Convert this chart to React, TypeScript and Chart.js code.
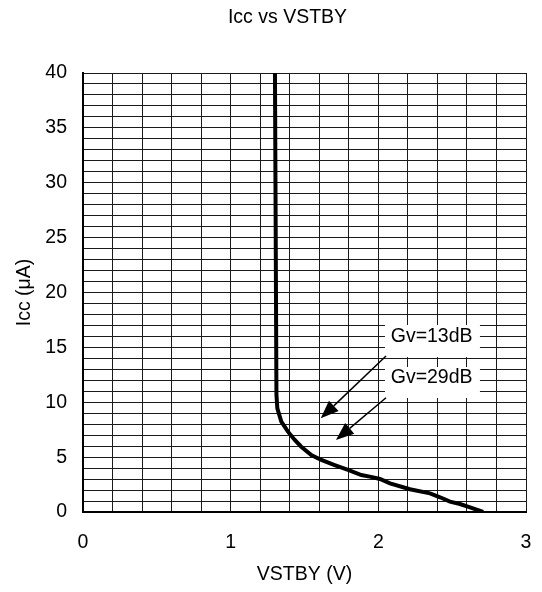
import React, { useEffect, useRef } from "react";
import { Chart, registerables } from "chart.js";

Chart.register(...registerables);

// Curve: VSTBY (V) vs Icc (µA)
const VSTBY = [1.30, 1.31, 1.316, 1.343, 1.388, 1.434, 1.478, 1.546, 1.614, 1.704, 1.795, 1.885, 1.95, 2.011, 2.079, 2.214, 2.35, 2.418, 2.485, 2.553, 2.621, 2.71];
const ICC = [40, 10.7, 9.45, 8.23, 7.32, 6.56, 5.95, 5.19, 4.74, 4.28, 3.83, 3.37, 3.2, 3.01, 2.61, 2.07, 1.70, 1.34, 0.94, 0.73, 0.43, 0];

const X_MIN = 0, X_MAX = 3, X_STEP = 0.2;
const Y_MIN = 0, Y_MAX = 40, Y_STEP = 1, Y_LABEL_EVERY = 5;

const TITLE = "Icc vs VSTBY";
const X_TITLE = "VSTBY (V)";
const Y_TITLE = "Icc (\u03bcA)";

// Annotations (in data coordinates)
const NOTE_TEXT = ["Gv=13dB", "Gv=29dB"];
const NOTE_V = [2.361, 2.361];
const NOTE_I = [15.52, 11.73];
const NOTE_BOX_V = [2.045, 2.688];
const NOTE_BOX_I_TOP = [17.04, 13.21];
const NOTE_BOX_I_BOTTOM = [14.12, 10.39];
const ARROW_FROM_V = [2.052, 2.052];
const ARROW_FROM_I = [14.21, 10.41];
const ARROW_TO_V = [1.61, 1.713];
const ARROW_TO_I = [8.54, 6.56];

const FONT = "'Liberation Sans', Arial, sans-serif";
const FS = 19.5;

const titlePlugin = {
  id: "offsetTitle",
  afterDraw(chart: any) {
    const { ctx } = chart;
    ctx.save();
    ctx.fillStyle = "#000";
    ctx.font = `${FS}px ${FONT}`;
    ctx.textAlign = "center";
    ctx.textBaseline = "alphabetic";
    ctx.fillText(TITLE, 287.5, 22.5);
    ctx.restore();
  },
};

const annotationPlugin = {
  id: "notes",
  afterDatasetsDraw(chart: any) {
    const { ctx } = chart;
    const xs = chart.scales.x;
    const ys = chart.scales.y;
    ctx.save();
    for (let i = 0; i < NOTE_TEXT.length; i++) {
      const x0 = xs.getPixelForValue(NOTE_BOX_V[0]);
      const x1 = xs.getPixelForValue(NOTE_BOX_V[1]);
      const y0 = ys.getPixelForValue(NOTE_BOX_I_TOP[i]);
      const y1 = ys.getPixelForValue(NOTE_BOX_I_BOTTOM[i]);
      ctx.fillStyle = "#fff";
      ctx.fillRect(x0, y0, x1 - x0, y1 - y0);
    }
    ctx.fillStyle = "#000";
    ctx.font = `${FS}px ${FONT}`;
    ctx.textAlign = "center";
    ctx.textBaseline = "alphabetic";
    for (let i = 0; i < NOTE_TEXT.length; i++) {
      ctx.fillText(NOTE_TEXT[i], xs.getPixelForValue(NOTE_V[i]), ys.getPixelForValue(NOTE_I[i]));
    }
    for (let i = 0; i < ARROW_FROM_V.length; i++) {
      const sx = xs.getPixelForValue(ARROW_FROM_V[i]);
      const sy = ys.getPixelForValue(ARROW_FROM_I[i]);
      const tx = xs.getPixelForValue(ARROW_TO_V[i]);
      const ty = ys.getPixelForValue(ARROW_TO_I[i]);
      const ang = Math.atan2(ty - sy, tx - sx);
      const len = 18, hw = 7;
      const bx = tx - len * Math.cos(ang);
      const by = ty - len * Math.sin(ang);
      ctx.strokeStyle = "#000";
      ctx.lineWidth = 1.5;
      ctx.beginPath();
      ctx.moveTo(sx, sy);
      ctx.lineTo(bx, by);
      ctx.stroke();
      ctx.beginPath();
      ctx.moveTo(tx, ty);
      ctx.lineTo(bx + hw * Math.sin(ang), by - hw * Math.cos(ang));
      ctx.lineTo(bx - hw * Math.sin(ang), by + hw * Math.cos(ang));
      ctx.closePath();
      ctx.fill();
    }
    ctx.restore();
  },
};

export default function App() {
  const ref = useRef<HTMLCanvasElement>(null);
  useEffect(() => {
    document.body.style.margin = "0";
    Chart.defaults.font.family = FONT;
    const points = VSTBY.map((v, i) => ({ x: v, y: ICC[i] }));
    const gridColor = "#1a1a1a";
    const chart = new Chart(ref.current!, {
      type: "scatter",
      data: {
        datasets: [
          {
            data: points,
            showLine: true,
            borderColor: "#000",
            backgroundColor: "#000",
            borderWidth: 4,
            pointRadius: 0,
            tension: 0,
          },
        ],
      },
      options: {
        responsive: false,
        animation: false,
        layout: { padding: { left: 0, right: 16, top: 73, bottom: 0 } },
        plugins: {
          legend: { display: false },
          tooltip: { enabled: false },
          title: { display: false },
        },
        scales: {
          x: {
            type: "linear",
            min: X_MIN,
            max: X_MAX,
            afterFit: (s: any) => {
              s.height = 80;
              s.paddingLeft = 0;
              s.paddingRight = 0;
            },
            border: { display: true, color: "#000", width: 2 },
            grid: { color: gridColor, lineWidth: 1, drawTicks: false },
            ticks: {
              stepSize: X_STEP,
              autoSkip: false,
              maxRotation: 0,
              padding: 18.6,
              color: "#000",
              font: { size: FS, family: FONT },
              callback: (v: any) => {
                const n = Number(v);
                return Math.abs(n - Math.round(n)) < 1e-6 ? String(Math.round(n)) : "";
              },
            },
            title: {
              display: true,
              text: X_TITLE,
              color: "#000",
              font: { size: FS, family: FONT },
              padding: { top: 0, bottom: 5.7 },
            },
          },
          y: {
            type: "linear",
            min: Y_MIN,
            max: Y_MAX,
            afterFit: (s: any) => {
              s.width = 83;
              s.paddingTop = 0;
              s.paddingBottom = 0;
            },
            border: { display: true, color: "#000", width: 2 },
            grid: { color: gridColor, lineWidth: 1, drawTicks: false },
            ticks: {
              stepSize: Y_STEP,
              autoSkip: false,
              padding: 16,
              color: "#000",
              font: { size: FS, family: FONT },
              callback: (v: any) => {
                const n = Math.round(Number(v));
                return n % Y_LABEL_EVERY === 0 ? String(n) : "";
              },
            },
            title: {
              display: true,
              text: Y_TITLE,
              color: "#000",
              font: { size: FS, family: FONT },
              padding: { top: 13.3, bottom: 0 },
            },
          },
        },
      },
      plugins: [annotationPlugin, titlePlugin],
    });
    return () => chart.destroy();
  }, []);
  return (
    <div style={{ width: 542, height: 592 }}>
      <canvas ref={ref} width={542} height={592} style={{ display: "block", width: 542, height: 592 }} />
    </div>
  );
}
